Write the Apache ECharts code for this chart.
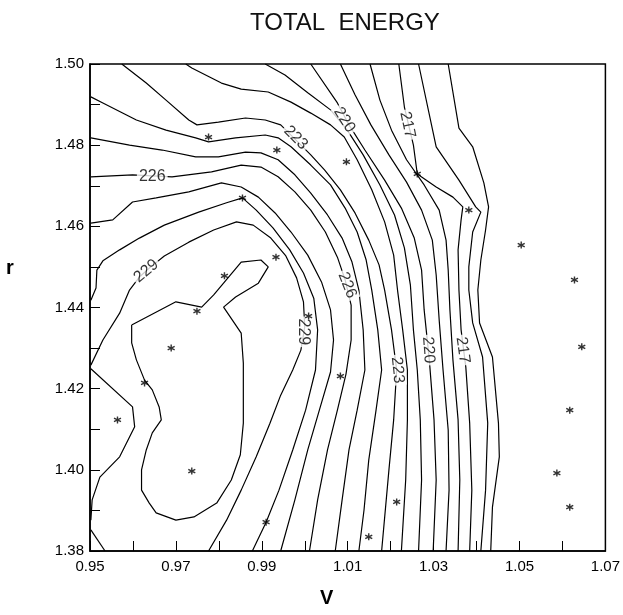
<!DOCTYPE html>
<html><head><meta charset="utf-8">
<script src="https://cdn.jsdelivr.net/npm/echarts@6/dist/echarts.min.js"></script>
<style>html,body{margin:0;padding:0;background:#fff}#c{width:623px;height:615px}</style>
</head><body><div id="c"></div>
<script>
// Axis ranges / ticks
const xMin = 0.95, xMax = 1.07, xStep = 0.01;
const yMin = 1.38, yMax = 1.50, yStep = 0.01;

// Sample points (stars)
const stars = [
  [0.9776,1.4820],[0.9935,1.4788],[1.0097,1.4759],[1.0262,1.4729],[1.0382,1.4640],
  [1.0504,1.4554],[1.0628,1.4468],[0.9855,1.4670],[0.9933,1.4524],[0.9813,1.4478],
  [0.9749,1.4391],[0.9689,1.4300],[0.9627,1.4214],[0.9564,1.4123],[0.9737,1.3997],
  [0.9910,1.3871],[1.0083,1.4231],[1.0009,1.4379],[1.0214,1.3921],[1.0149,1.3835],[1.0645,1.4303],
  [1.0617,1.4147],[1.0587,1.3992],[1.0617,1.3908]
];

// Contour lines, one polyline per level (V, r)
const c215 = [[1.0334,1.5000],[1.0359,1.4842],[1.0391,1.4796],[1.0417,1.4707],[1.0428,1.4648],[1.0421,1.4591],[1.0410,1.4517],[1.0403,1.4443],[1.0407,1.4362],[1.0437,1.4278],[1.0451,1.4115],[1.0453,1.4032],[1.0437,1.3908],[1.0433,1.3800]];
const c216 = [[1.0265,1.5000],[1.0306,1.4796],[1.0359,1.4714],[1.0398,1.4648],[1.0410,1.4635],[1.0391,1.4586],[1.0382,1.4500],[1.0382,1.4443],[1.0391,1.4362],[1.0414,1.4278],[1.0426,1.4115],[1.0421,1.3950],[1.0410,1.3800]];
const c217 = [[1.0219,1.5000],[1.0232,1.4894],[1.0253,1.4800],[1.0262,1.4729],[1.0306,1.4697],[1.0345,1.4672],[1.0368,1.4648],[1.0364,1.4616],[1.0357,1.4542],[1.0359,1.4443],[1.0364,1.4345],[1.0375,1.4253],[1.0384,1.4115],[1.0389,1.3950],[1.0384,1.3800]];
const c218 = [[1.0152,1.5000],[1.0175,1.4911],[1.0202,1.4837],[1.0237,1.4764],[1.0278,1.4702],[1.0313,1.4640],[1.0329,1.4566],[1.0334,1.4492],[1.0338,1.4394],[1.0345,1.4271],[1.0357,1.4123],[1.0361,1.3975],[1.0357,1.3800]];
const c219 = [[1.0083,1.5000],[1.0117,1.4924],[1.0154,1.4850],[1.0196,1.4776],[1.0237,1.4709],[1.0272,1.4640],[1.0297,1.4566],[1.0306,1.4480],[1.0313,1.4369],[1.0322,1.4246],[1.0334,1.4098],[1.0336,1.3950],[1.0329,1.3800]];
const c220 = [[1.0014,1.5000],[1.0076,1.4904],[1.0103,1.4850],[1.0140,1.4788],[1.0186,1.4714],[1.0225,1.4645],[1.0255,1.4571],[1.0272,1.4492],[1.0278,1.4394],[1.0290,1.4271],[1.0301,1.4123],[1.0306,1.3975],[1.0299,1.3800]];
const c221 = [[0.9908,1.5000],[0.9954,1.4973],[1.0007,1.4929],[1.0060,1.4887],[1.0099,1.4837],[1.0136,1.4776],[1.0175,1.4702],[1.0209,1.4628],[1.0232,1.4547],[1.0246,1.4455],[1.0253,1.4345],[1.0262,1.4246],[1.0269,1.4123],[1.0272,1.3975],[1.0265,1.3800]];
const c222 = [[0.9723,1.5000],[0.9737,1.4990],[0.9806,1.4953],[0.9852,1.4938],[0.9915,1.4931],[0.9968,1.4906],[1.0014,1.4879],[1.0060,1.4850],[1.0092,1.4820],[1.0122,1.4764],[1.0156,1.4690],[1.0186,1.4611],[1.0207,1.4529],[1.0216,1.4443],[1.0228,1.4345],[1.0239,1.4246],[1.0239,1.4123],[1.0235,1.3975],[1.0225,1.3800]];
const c223 = [[0.9574,1.5000],[0.9631,1.4953],[0.9677,1.4911],[0.9730,1.4862],[0.9749,1.4850],[0.9799,1.4857],[0.9862,1.4867],[0.9908,1.4862],[0.9944,1.4850],[0.9979,1.4813],[1.0014,1.4776],[1.0046,1.4739],[1.0083,1.4690],[1.0117,1.4633],[1.0149,1.4566],[1.0173,1.4505],[1.0186,1.4443],[1.0202,1.4345],[1.0214,1.4246],[1.0207,1.4123],[1.0196,1.4000],[1.0179,1.3800]];
const c224 = [[0.9502,1.4919],[0.9530,1.4904],[0.9608,1.4862],[0.9677,1.4837],[0.9746,1.4818],[0.9776,1.4808],[0.9839,1.4818],[0.9908,1.4825],[0.9938,1.4818],[0.9968,1.4796],[1.0014,1.4751],[1.0060,1.4702],[1.0094,1.4645],[1.0122,1.4586],[1.0143,1.4517],[1.0156,1.4443],[1.0170,1.4345],[1.0179,1.4246],[1.0166,1.4147],[1.0149,1.4024],[1.0138,1.3901],[1.0126,1.3800]];
const c225 = [[0.9502,1.4818],[0.9592,1.4800],[0.9668,1.4788],[0.9746,1.4771],[0.9799,1.4771],[0.9862,1.4783],[0.9898,1.4781],[0.9938,1.4764],[0.9977,1.4727],[1.0014,1.4682],[1.0053,1.4628],[1.0087,1.4571],[1.0110,1.4512],[1.0126,1.4443],[1.0136,1.4345],[1.0140,1.4246],[1.0122,1.4147],[1.0103,1.4049],[1.0087,1.3926],[1.0071,1.3800]];
const c226 = [[0.9502,1.4722],[0.9599,1.4727],[0.9691,1.4722],[0.9783,1.4734],[0.9852,1.4751],[0.9898,1.4746],[0.9938,1.4722],[0.9977,1.4685],[1.0014,1.4640],[1.0048,1.4586],[1.0076,1.4524],[1.0094,1.4468],[1.0108,1.4406],[1.0108,1.4320],[1.0096,1.4236],[1.0076,1.4147],[1.0053,1.4049],[1.0030,1.3926],[1.0011,1.3800]];
const c227 = [[0.9502,1.4608],[0.9553,1.4616],[0.9599,1.4660],[0.9654,1.4670],[0.9730,1.4685],[0.9806,1.4707],[0.9852,1.4697],[0.9892,1.4672],[0.9931,1.4633],[0.9968,1.4586],[1.0007,1.4529],[1.0039,1.4463],[1.0060,1.4394],[1.0067,1.4320],[1.0060,1.4241],[1.0034,1.4147],[1.0007,1.4049],[0.9977,1.3926],[0.9944,1.3800]];
const c228 = [[0.9502,1.4418],[0.9514,1.4448],[0.9516,1.4492],[0.9530,1.4515],[0.9569,1.4542],[0.9615,1.4571],[0.9673,1.4603],[0.9753,1.4635],[0.9818,1.4658],[0.9855,1.4670],[0.9887,1.4640],[0.9926,1.4596],[0.9965,1.4542],[0.9997,1.4485],[1.0021,1.4423],[1.0030,1.4345],[1.0025,1.4246],[1.0002,1.4147],[0.9972,1.4049],[0.9940,1.3950],[0.9910,1.3871],[0.9878,1.3800]];
const c229a = [[0.9502,1.4258],[0.9530,1.4320],[0.9569,1.4386],[0.9592,1.4443],[0.9615,1.4475],[0.9638,1.4497],[0.9673,1.4527],[0.9730,1.4561],[0.9788,1.4591],[0.9841,1.4611],[0.9880,1.4603],[0.9921,1.4571],[0.9956,1.4527],[0.9981,1.4473],[0.9997,1.4414],[1.0000,1.4352],[0.9991,1.4295],[0.9972,1.4246],[0.9944,1.4184],[0.9919,1.4115],[0.9887,1.4032],[0.9852,1.3950],[0.9818,1.3876],[0.9776,1.3800]];
const c229b = [[0.9502,1.4249],[0.9599,1.4155],[0.9604,1.4106],[0.9569,1.4032],[0.9523,1.3982],[0.9505,1.3926],[0.9502,1.3876]];
const c229c = [[0.9502,1.3852],[0.9535,1.3800]];
const c230 = [[0.9597,1.4357],[0.9700,1.4414],[0.9760,1.4401],[0.9788,1.4431],[0.9852,1.4512],[0.9898,1.4517],[0.9915,1.4500],[0.9892,1.4460],[0.9839,1.4426],[0.9811,1.4401],[0.9852,1.4337],[0.9857,1.4263],[0.9857,1.4115],[0.9850,1.4037],[0.9829,1.3975],[0.9795,1.3918],[0.9742,1.3884],[0.9700,1.3876],[0.9654,1.3894],[0.9638,1.3918],[0.9620,1.3950],[0.9620,1.4000],[0.9631,1.4049],[0.9645,1.4091],[0.9666,1.4123],[0.9661,1.4155],[0.9645,1.4197],[0.9627,1.4221],[0.9608,1.4271],[0.9597,1.4313],[0.9597,1.4357]];

const contours = [c215,c216,c217,c218,c219,c220,c221,c222,c223,c224,c225,c226,c227,c228,c229a,c229b,c229c,c230];

// Contour labels: [V, r, level, angle]
const contourLabels = [
  [0.9979,1.4818,223,-45],[1.0092,1.4862,220,-58],[1.0239,1.4850,217,-78],
  [0.9645,1.4722,226,0],[0.9631,1.4490,229,40],[1.0099,1.4455,226,-68],
  [0.9997,1.4340,229,-90],[1.0216,1.4246,223,-84],[1.0288,1.4295,220,-86],[1.0368,1.4295,217,-82]
];

const fmt2 = v => v.toFixed(2);
const chart = echarts.init(document.getElementById('c'));
const series = contours.map(d => ({
  type:'line', data:d, showSymbol:false, silent:true, z:2,
  lineStyle:{color:'#000', width:1.2}
}));
const starPath = 'path://M0,-5L0,5M-4.33,-2.5L4.33,2.5M-4.33,2.5L4.33,-2.5';
series.push({type:'scatter', data:stars, symbol:starPath, symbolSize:7, z:5,
  itemStyle:{color:'#000', borderColor:'#000', borderWidth:1.4}});
series.push({type:'scatter', z:4, symbolSize:1, silent:true,
  itemStyle:{color:'rgba(0,0,0,0)'},
  data: contourLabels.map(l => ({value:[l[0], l[1], l[2]], label:{rotate:l[3]}})),
  label:{show:true, position:'inside', formatter:p => String(p.value[2]),
    fontFamily:'Liberation Sans', fontSize:16, color:'#000', backgroundColor:'#fff', padding:[0,2]}});

chart.setOption({
  animation:false,
  backgroundColor:'#fff',
  title:{text:'TOTAL  ENERGY', left:245, top:6, textStyle:{fontFamily:'Liberation Sans', fontSize:24, fontWeight:'normal', color:'#111'}},
  grid:{left:90, top:64, right:12, bottom:64, show:true, borderColor:'#000', borderWidth:1.5},
  graphic:[
    {type:'text', left:320, top:588, style:{text:'V', fontFamily:'Liberation Sans', fontSize:20, fontWeight:'bold', fill:'#000'}},
    {type:'text', left:6, top:258, style:{text:'r', fontFamily:'Liberation Sans', fontSize:20, fontWeight:'bold', fill:'#000'}}
  ],
  xAxis:{type:'value', min:xMin, max:xMax, interval:xStep,
    axisLine:{lineStyle:{color:'#000', width:1.5}}, axisTick:{inside:true, length:10, lineStyle:{color:'#000'}},
    splitLine:{show:false},
    axisLabel:{margin:8, fontFamily:'Liberation Sans', fontSize:15, color:'#000',
      formatter:v => (Math.round((v - xMin)/xStep) % 2 === 0 ? fmt2(v) : '')}},
  yAxis:{type:'value', min:yMin, max:yMax, interval:yStep,
    axisLine:{lineStyle:{color:'#000', width:1.5}}, axisTick:{inside:true, length:10, lineStyle:{color:'#000'}},
    splitLine:{show:false},
    axisLabel:{margin:6, fontFamily:'Liberation Sans', fontSize:15, color:'#000',
      formatter:v => (Math.round((v - yMin)/yStep) % 2 === 0 ? fmt2(v) : '')}},
  series
});
</script></body></html>
